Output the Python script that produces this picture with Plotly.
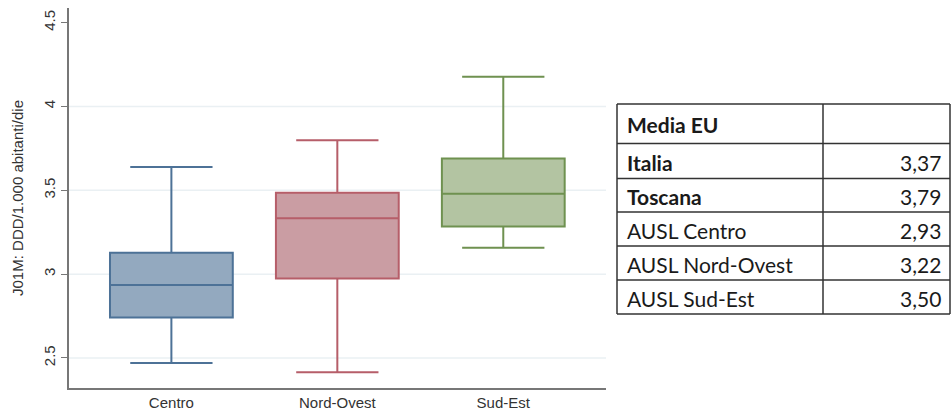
import plotly.graph_objects as go

# ---- data ----
categories = ["Centro", "Nord-Ovest", "Sud-Est"]
lower_fence = [2.47, 2.415, 3.157]
q1_vals = [2.742, 2.974, 3.284]
median_vals = [2.935, 3.333, 3.48]
q3_vals = [3.127, 3.486, 3.69]
upper_fence = [3.639, 3.798, 4.177]

fill_colors = ["#93a9bf", "#ca9da3", "#b3c4a2"]
line_colors = ["#4d7297", "#b65e69", "#6f9150"]

y_ticks = [2.5, 3, 3.5, 4, 4.5]
grid_vals = [2.5, 3, 3.5, 4]
y_title = "J01M: DDD/1.000 abitanti/die"

table_labels = ["Media EU", "Italia", "Toscana", "AUSL Centro", "AUSL Nord-Ovest", "AUSL Sud-Est"]
table_values = ["", "3,37", "3,79", "2,93", "3,22", "3,50"]
table_bold = [True, True, True, False, False, False]

# ---- layout geometry (pixels) ----
W, H = 952, 412
L, R, T, B = 69, 606, 8, 388
PW, PH = R - L, B - T


def px(x):
    return (x - L) / PW


def py(y):
    return (B - y) / PH


fig = go.Figure()
for i, c in enumerate(categories):
    fig.add_trace(go.Box(
        x=[c], q1=[q1_vals[i]], median=[median_vals[i]], q3=[q3_vals[i]],
        lowerfence=[lower_fence[i]], upperfence=[upper_fence[i]],
        fillcolor=fill_colors[i], line=dict(color=line_colors[i], width=2),
        width=0.74, whiskerwidth=0.67, showlegend=False, boxpoints=False,
        hoverinfo="skip",
    ))

shapes = []
# faint horizontal gridlines
for g in grid_vals:
    shapes.append(dict(type="line", xref="paper", yref="y", x0=0, x1=1, y0=g, y1=g,
                       line=dict(color="#eaf0f3", width=1.5), layer="below"))

# ---- table drawn with shapes/annotations ----
tab_left, tab_mid, tab_right = 617, 823, 950
row_edges = [104, 143.5, 178.5, 212, 246, 280, 314]
line_style = dict(color="#333333", width=1.5)
for y in row_edges:
    shapes.append(dict(type="line", xref="paper", yref="paper",
                       x0=px(tab_left), x1=px(tab_right), y0=py(y), y1=py(y), line=line_style))
for x in [tab_left, tab_mid, tab_right]:
    shapes.append(dict(type="line", xref="paper", yref="paper",
                       x0=px(x), x1=px(x), y0=py(row_edges[0]), y1=py(row_edges[-1]), line=line_style))

annotations = []
tfont = dict(family="Lato", size=21, color="#1a1a1a")
for i, (lab, val, bold) in enumerate(zip(table_labels, table_values, table_bold)):
    yc = (row_edges[i] + row_edges[i + 1]) / 2 + 1
    text = f"<b>{lab}</b>" if bold else lab
    annotations.append(dict(xref="paper", yref="paper", x=px(625), y=py(yc),
                            text=text, showarrow=False, xanchor="left", yanchor="middle",
                            font=tfont))
    if val:
        annotations.append(dict(xref="paper", yref="paper", x=px(943), y=py(yc),
                                text=val, showarrow=False, xanchor="right", yanchor="middle",
                                font=tfont))

fig.update_layout(
    width=W, height=H,
    margin=dict(l=L, r=W - R, t=T, b=H - B, pad=0, autoexpand=False),
    paper_bgcolor="white", plot_bgcolor="white",
    font=dict(family="Liberation Sans, Arial", size=15, color="#333333"),
    shapes=shapes, annotations=annotations,
    xaxis=dict(
        type="category", range=[-0.617, 2.619], showline=True, linecolor="#777777",
        linewidth=2, ticks="", showgrid=False, zeroline=False, automargin=False,
        tickfont=dict(size=15, color="#333333"),
    ),
    yaxis=dict(
        range=[2.321, 4.587], tickvals=y_ticks, ticktext=[str(t) for t in y_ticks],
        showline=True, linecolor="#777777", linewidth=1.5, ticks="outside", ticklen=6,
        tickcolor="#777777", tickangle=-90, showgrid=False, zeroline=False, automargin=False,
        tickfont=dict(size=15, color="#333333"),
        title=dict(text=y_title, font=dict(size=15, color="#333333"), standoff=14),
    ),
)

fig.write_html("out.html")
